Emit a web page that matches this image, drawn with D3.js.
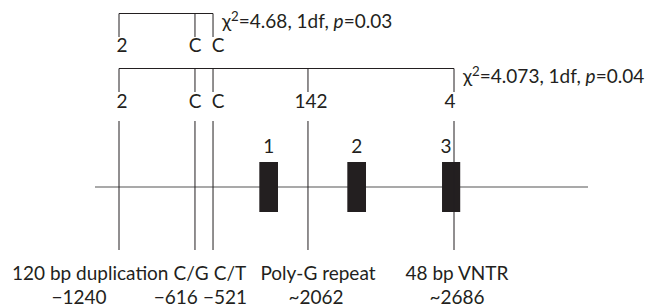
<!DOCTYPE html>
<html>
<head>
<meta charset="utf-8">
<script src="https://cdn.jsdelivr.net/npm/d3@7"></script>
<style>
  html, body { margin: 0; padding: 0; background: #fff; }
  svg { display: block; }
  text { font-family: Lato, "Noto Sans", sans-serif; fill: #231f20; }
</style>
</head>
<body>
<svg id="chart" width="646" height="308"></svg>
<script>
// ---- data ----
// polymorphic sites along the gene (schematic map position, 0-100)
const siteNames = ["120 bp duplication", "C/G", "C/T", "Poly-G repeat", "48 bp VNTR"];
const sitePositions = ["\u22121240", "\u2212616", "\u2212521", "~2062", "~2686"];
const siteMap = [4.87, 20.28, 23.94, 43.2, 72.82];
// haplotype alleles (top: 3-site haplotype, second: 5-site haplotype)
const haplo3 = ["2", "C", "C"];
const haplo5 = ["2", "C", "C", "142", "4"];
const chi3 = { chi: "4.68", df: "1", p: "0.03" };
const chi5 = { chi: "4.073", df: "1", p: "0.04" };
// exons
const exonNames = ["1", "2", "3"];
const exonStart = [33.33, 51.18, 70.39];
const exonEnd = [37.12, 54.97, 74.08];
const geneExtent = [0, 100];

// ---- layout ----
const svg = d3.select("#chart");
const x = d3.scaleLinear().domain(geneExtent).range([95, 588]);
const Y = {
  br1: 13.5, br1Bot: 37, row1: 52,
  br2: 68.5, br2Bot: 92, row2: 108,
  vTop: 121, vBot: 250, exonLbl: 153,
  exTop: 162, exBot: 212, gene: 187,
  name: 280, pos: 304
};
const FS = 19;
const FSB = 19;
const ink = "#231f20";
const allele1dx = [3, 0, 5];
const allele2dx = [3, 0, 5, 3, -4];
const exondx = [0, 0, -5];

const sites = siteNames.map((n, i) => ({ name: n, pos: sitePositions[i], m: siteMap[i] }));

// gene backbone
svg.append("line")
  .attr("x1", x(geneExtent[0])).attr("x2", x(geneExtent[1]))
  .attr("y1", Y.gene).attr("y2", Y.gene)
  .attr("stroke", "#555").attr("stroke-width", 1.2);

// exons
const exons = exonNames.map((n, i) => ({ name: n, s: exonStart[i], e: exonEnd[i] }));
svg.selectAll("rect.exon").data(exons).join("rect")
  .attr("class", "exon")
  .attr("x", d => x(d.s)).attr("width", d => x(d.e) - x(d.s))
  .attr("y", Y.exTop).attr("height", Y.exBot - Y.exTop)
  .attr("fill", ink);

// site verticals (lower)
svg.selectAll("line.site").data(sites).join("line")
  .attr("class", "site")
  .attr("x1", d => x(d.m)).attr("x2", d => x(d.m))
  .attr("y1", Y.vTop).attr("y2", Y.vBot)
  .attr("stroke", ink).attr("stroke-width", 1);

svg.selectAll("text.exon").data(exons).join("text")
  .attr("class", "exon")
  .attr("x", (d, i) => (x(d.s) + x(d.e)) / 2 + exondx[i])
  .attr("y", Y.exonLbl)
  .attr("text-anchor", "middle").attr("font-size", FS)
  .text(d => d.name);

// brackets
function bracket(alleles, yTop, yBot, yLbl, dxs, chi) {
  const n = alleles.length;
  const g = svg.append("g");
  g.append("line")
    .attr("x1", x(siteMap[0])).attr("x2", x(siteMap[n - 1]))
    .attr("y1", yTop).attr("y2", yTop)
    .attr("stroke", ink).attr("stroke-width", 1);
  g.selectAll("line.v").data(alleles).join("line")
    .attr("class", "v")
    .attr("x1", (d, i) => x(siteMap[i])).attr("x2", (d, i) => x(siteMap[i]))
    .attr("y1", yTop).attr("y2", yBot)
    .attr("stroke", ink).attr("stroke-width", 1);
  g.selectAll("text.a").data(alleles).join("text")
    .attr("class", "a")
    .attr("x", (d, i) => x(siteMap[i]) + dxs[i])
    .attr("y", yLbl)
    .attr("text-anchor", "middle").attr("font-size", FS)
    .text(d => d);
  const t = g.append("text")
    .attr("x", x(siteMap[n - 1]) + 9)
    .attr("y", yTop + 14)
    .attr("font-size", FS);
  t.append("tspan").text("\u03c7");
  t.append("tspan").attr("font-size", FS * 0.7).attr("dy", -7).text("2");
  t.append("tspan").attr("dy", 7).text("=" + chi.chi + ", " + chi.df + "df, ");
  t.append("tspan").attr("font-style", "italic").text("p");
  t.append("tspan").text("=" + chi.p);
}
bracket(haplo3, Y.br1, Y.br1Bot, Y.row1, allele1dx, chi3);
bracket(haplo5, Y.br2, Y.br2Bot, Y.row2, allele2dx, chi5);

// bottom labels: typeset like a line of text under the sites
function label(txt, y) {
  return svg.append("text").attr("y", y).attr("font-size", FSB).text(txt);
}
const gap = FSB * 0.27;
// names row
const n0 = label(sites[0].name, Y.name).attr("x", 12);
const w0 = n0.node().getComputedTextLength();
const n1 = label(sites[1].name, Y.name).attr("x", 12 + w0 + gap);
const w1 = n1.node().getComputedTextLength();
label(sites[2].name, Y.name).attr("x", 12 + w0 + gap + w1 + gap);
label(sites[3].name, Y.name).attr("x", x(sites[3].m) + 10).attr("text-anchor", "middle");
label(sites[4].name, Y.name).attr("x", x(sites[4].m) + 3).attr("text-anchor", "middle");
// positions row
label(sites[0].pos, Y.pos).attr("x", x(sites[0].m) - 40).attr("text-anchor", "middle");
const p2 = label(sites[2].pos, Y.pos).attr("x", x(sites[2].m) + 34).attr("text-anchor", "end");
const wp2 = p2.node().getComputedTextLength();
label(sites[1].pos, Y.pos).attr("x", x(sites[2].m) + 34 - wp2 - gap).attr("text-anchor", "end");
label(sites[3].pos, Y.pos).attr("x", x(sites[3].m) + 8).attr("text-anchor", "middle");
label(sites[4].pos, Y.pos).attr("x", x(sites[4].m) + 3).attr("text-anchor", "middle");
</script>
</body>
</html>
